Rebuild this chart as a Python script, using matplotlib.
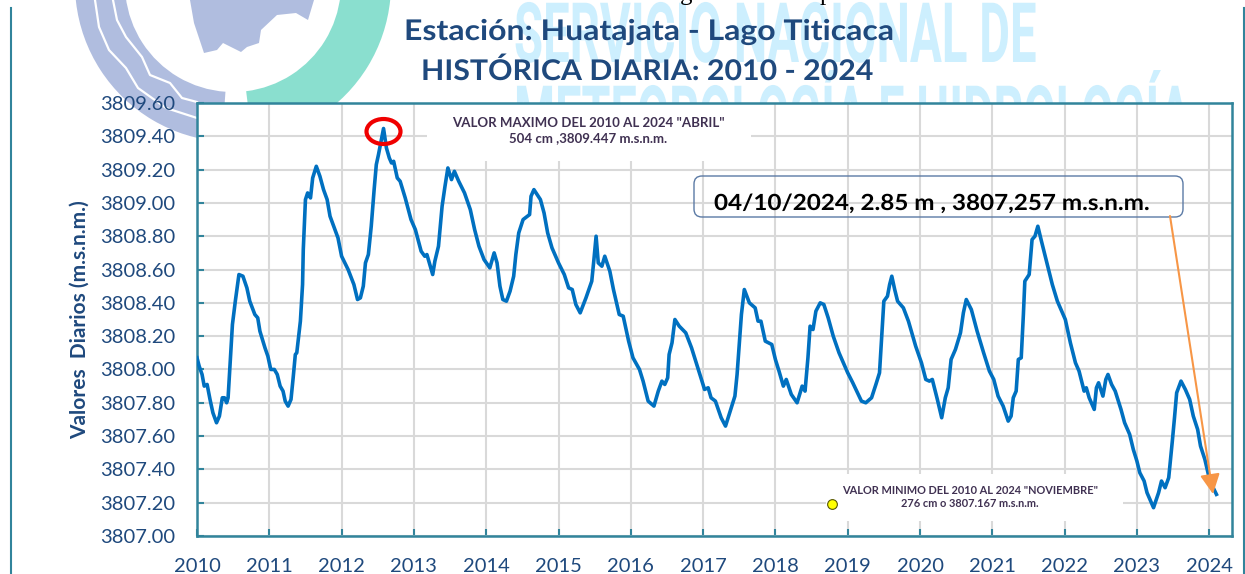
import numpy as np
import matplotlib
matplotlib.use('Agg')
import matplotlib.pyplot as plt
from matplotlib.patches import Wedge, Ellipse, FancyBboxPatch, Rectangle, Polygon
from matplotlib.patheffects import AbstractPathEffect
from matplotlib.transforms import Affine2D

# decimal year, level (m.s.n.m.)
years = [
    2010.0, 2010.03, 2010.07, 2010.10, 2010.14, 2010.18, 2010.22, 2010.27, 2010.31, 2010.35, 2010.38, 2010.41,
    2010.43, 2010.46, 2010.49, 2010.53, 2010.58, 2010.635, 2010.69, 2010.73, 2010.80, 2010.84, 2010.87, 2010.94,
    2010.98, 2011.02, 2011.07, 2011.11, 2011.15, 2011.19, 2011.22, 2011.26, 2011.30, 2011.33, 2011.36, 2011.38,
    2011.43, 2011.46, 2011.47, 2011.50, 2011.53, 2011.57, 2011.60, 2011.65, 2011.70, 2011.75, 2011.80, 2011.84,
    2011.90, 2011.95, 2012.0, 2012.09, 2012.17, 2012.22, 2012.26, 2012.30, 2012.33, 2012.37, 2012.41, 2012.45,
    2012.48, 2012.51, 2012.58, 2012.62, 2012.66, 2012.69, 2012.72, 2012.77, 2012.81, 2012.88, 2012.96, 2013.02,
    2013.10, 2013.15, 2013.18, 2013.26, 2013.29, 2013.34, 2013.39, 2013.43, 2013.47, 2013.52, 2013.56, 2013.62,
    2013.70, 2013.78, 2013.84, 2013.90, 2013.97, 2014.05, 2014.11, 2014.15, 2014.19, 2014.23, 2014.28, 2014.33,
    2014.38, 2014.41, 2014.45, 2014.51, 2014.60, 2014.62, 2014.66, 2014.75, 2014.80, 2014.85, 2014.91, 2015.0,
    2015.08, 2015.14, 2015.19, 2015.24, 2015.30, 2015.38, 2015.46, 2015.49, 2015.52, 2015.55, 2015.60, 2015.64,
    2015.71, 2015.76, 2015.84, 2015.895, 2015.97, 2016.03, 2016.12, 2016.17, 2016.24, 2016.32, 2016.38, 2016.43,
    2016.47, 2016.51, 2016.53, 2016.57, 2016.61, 2016.67, 2016.76, 2016.84, 2016.92, 2016.97, 2017.02, 2017.07,
    2017.11, 2017.17, 2017.25, 2017.31, 2017.36, 2017.44, 2017.47, 2017.50, 2017.53, 2017.57, 2017.64, 2017.72,
    2017.76, 2017.80, 2017.86, 2017.95, 2018.0, 2018.05, 2018.11, 2018.15, 2018.22, 2018.30, 2018.37, 2018.41,
    2018.45, 2018.48, 2018.52, 2018.56, 2018.62, 2018.67, 2018.73, 2018.80, 2018.88, 2019.0, 2019.07, 2019.19,
    2019.25, 2019.33, 2019.39, 2019.44, 2019.47, 2019.50, 2019.55, 2019.58, 2019.61, 2019.65, 2019.69, 2019.77,
    2019.84, 2019.94, 2020.02, 2020.08, 2020.13, 2020.17, 2020.24, 2020.30, 2020.35, 2020.39, 2020.43, 2020.49,
    2020.56, 2020.60, 2020.64, 2020.71, 2020.79, 2020.88, 2020.96, 2021.02, 2021.08, 2021.15, 2021.22, 2021.26,
    2021.29, 2021.33, 2021.36, 2021.40, 2021.43, 2021.45, 2021.51, 2021.55, 2021.59, 2021.63, 2021.68, 2021.76,
    2021.83, 2021.90, 2022.01, 2022.08, 2022.15, 2022.20, 2022.27, 2022.30, 2022.34, 2022.41, 2022.44, 2022.47,
    2022.53, 2022.57, 2022.60, 2022.65, 2022.70, 2022.78, 2022.83, 2022.90, 2022.95, 2023.0, 2023.04, 2023.10,
    2023.14, 2023.23, 2023.30, 2023.34, 2023.39, 2023.44, 2023.49, 2023.52, 2023.55, 2023.61, 2023.67, 2023.73,
    2023.78, 2023.84, 2023.88, 2023.94, 2024.01, 2024.10,
]
levels = [
    3808.07, 3808.02, 3807.97, 3807.90, 3807.91, 3807.82, 3807.74, 3807.68, 3807.72, 3807.83, 3807.83, 3807.80,
    3807.83, 3808.05, 3808.27, 3808.41, 3808.57, 3808.56, 3808.49, 3808.41, 3808.33, 3808.31, 3808.23, 3808.13,
    3808.08, 3808.00, 3808.00, 3807.97, 3807.90, 3807.87, 3807.81, 3807.78, 3807.82, 3807.95, 3808.09, 3808.10,
    3808.29, 3808.51, 3808.72, 3809.02, 3809.06, 3809.03, 3809.15, 3809.22, 3809.16, 3809.08, 3809.02, 3808.92,
    3808.85, 3808.79, 3808.68, 3808.60, 3808.51, 3808.42, 3808.43, 3808.50, 3808.64, 3808.69, 3808.86, 3809.08,
    3809.23, 3809.29, 3809.447, 3809.33, 3809.27, 3809.24, 3809.25, 3809.15, 3809.13, 3809.03, 3808.90, 3808.84,
    3808.71, 3808.68, 3808.69, 3808.57, 3808.65, 3808.74, 3808.98, 3809.10, 3809.21, 3809.14, 3809.19, 3809.13,
    3809.06, 3808.96, 3808.84, 3808.74, 3808.66, 3808.61, 3808.70, 3808.64, 3808.50, 3808.42, 3808.41, 3808.47,
    3808.56, 3808.69, 3808.82, 3808.90, 3808.93, 3809.04, 3809.08, 3809.02, 3808.94, 3808.82, 3808.73, 3808.64,
    3808.57, 3808.49, 3808.48, 3808.39, 3808.34, 3808.43, 3808.53, 3808.66, 3808.80, 3808.64, 3808.62, 3808.68,
    3808.59, 3808.48, 3808.33, 3808.32, 3808.17, 3808.07, 3808.00, 3807.93, 3807.81, 3807.78, 3807.87, 3807.93,
    3807.91, 3807.95, 3808.09, 3808.16, 3808.30, 3808.26, 3808.22, 3808.13, 3808.02, 3807.95, 3807.88, 3807.89,
    3807.83, 3807.81, 3807.71, 3807.66, 3807.73, 3807.84, 3807.97, 3808.15, 3808.33, 3808.48, 3808.40, 3808.37,
    3808.29, 3808.29, 3808.17, 3808.15, 3808.06, 3807.99, 3807.90, 3807.94, 3807.85, 3807.80, 3807.90, 3807.87,
    3808.07, 3808.26, 3808.24, 3808.35, 3808.40, 3808.39, 3808.31, 3808.20, 3808.10, 3807.98, 3807.92, 3807.81,
    3807.80, 3807.83, 3807.91, 3807.98, 3808.19, 3808.41, 3808.44, 3808.51, 3808.56, 3808.48, 3808.41, 3808.37,
    3808.29, 3808.14, 3808.04, 3807.94, 3807.93, 3807.94, 3807.82, 3807.71, 3807.83, 3807.89, 3808.06, 3808.12,
    3808.22, 3808.34, 3808.42, 3808.36, 3808.23, 3808.10, 3807.99, 3807.94, 3807.84, 3807.78, 3807.69, 3807.72,
    3807.83, 3807.87, 3808.06, 3808.07, 3808.33, 3808.53, 3808.57, 3808.78, 3808.80, 3808.86, 3808.77, 3808.63,
    3808.51, 3808.41, 3808.30, 3808.16, 3808.04, 3807.99, 3807.87, 3807.89, 3807.83, 3807.76, 3807.89, 3807.92,
    3807.84, 3807.94, 3807.97, 3807.91, 3807.87, 3807.76, 3807.68, 3807.61, 3807.52, 3807.45, 3807.38, 3807.33,
    3807.26, 3807.17, 3807.26, 3807.33, 3807.29, 3807.35, 3807.57, 3807.71, 3807.86, 3807.93, 3807.88, 3807.82,
    3807.72, 3807.64, 3807.54, 3807.46, 3807.33, 3807.25,
]
year_ticks = list(range(2010, 2025))
level_ticks = [3807.0 + 0.2 * i for i in range(14)]

title_1 = 'Estación: Huatajata - Lago Titicaca'
title_2 = 'HISTÓRICA DIARIA: 2010 - 2024'
note_max = 'VALOR MAXIMO DEL 2010 AL 2024 "ABRIL"\n504 cm ,3809.447 m.s.n.m.'
note_min = 'VALOR MINIMO DEL 2010 AL 2024 "NOVIEMBRE"\n276 cm o 3807.167 m.s.n.m.'
note_last = '04/10/2024, 2.85 m , 3807,257 m.s.n.m.'
mark_1 = 'SERVICIO NACIONAL DE'
mark_2 = 'METEOROLOGÍA E HIDROLOGÍA'

W, H = 1245, 574
TEAL = '#31849b'
NAVY = '#1f497d'
plt.rcParams['font.family'] = ['Lato', 'DejaVu Sans']

fig = plt.figure(figsize=(W / 100, H / 100), dpi=100)
renderer = fig.canvas.get_renderer()


class StretchX(AbstractPathEffect):
    # the fonts here are wider/narrower than the original ones, so scale text along x
    def __init__(self, sx, x0):
        super().__init__()
        self.sx = sx
        self.x0 = x0

    def draw_path(self, renderer, gc, tpath, affine, rgbFace=None):
        t = affine + Affine2D().translate(-self.x0, 0).scale(self.sx, 1).translate(self.x0, 0)
        renderer.draw_path(gc, tpath, t, rgbFace)


def fit_width(txt, x0, target):
    width = txt.get_window_extent(renderer).width
    txt.set_path_effects([StretchX(target / width, x0)])


# background layer in pixel coordinates: logo, watermark, side rules
bg = fig.add_axes([0, 0, 1, 1], zorder=0)
bg.set_xlim(0, W)
bg.set_ylim(H, 0)
bg.axis('off')
cx, cy = 233, -16
bg.add_patch(Wedge((cx, cy), 158, 94, 200, width=50, fc='#b0bddf', ec='none'))
bg.add_patch(Wedge((cx, cy), 158, -20, 83, width=50, fc='#8adfcf', ec='none'))
bg.plot([95, 99, 109, 126, 138, 166, 197], [0, 27, 50, 68, 88, 108, 118], color='white', lw=1.6)
bg.plot([113, 117, 126, 142, 150, 170, 182, 197], [0, 20, 37, 57, 75, 83, 98, 102], color='white', lw=1.6)
bg.add_patch(Polygon([(190, 0), (194, 23), (204, 53), (217, 50), (223, 43), (241, 52), (247, 47), (259, 43),
                      (261, 30), (277, 15), (296, 13), (308, 20), (314, 0)], fc='#b0bddf', ec='none'))
bg.plot([11, 11], [8, H], color=TEAL, lw=1.5)
bg.plot([1244, 1244], [8, H], color=TEAL, lw=1.5)
m1 = bg.text(514, 62, mark_1, color='#cdeffe', fontsize=60, family='Roboto', fontweight='bold', va='baseline')
m2 = bg.text(514, 145, mark_2, color='#cdeffe', fontsize=60, family='Roboto', fontweight='bold', va='baseline')
fit_width(m1, 514, 523)
fit_width(m2, 514, 677)
bg.text(686, 0, 'g', color='black', fontsize=18, family='Liberation Serif', ha='center', va='baseline')
bg.text(826, 0, 'p', color='black', fontsize=18, family='Liberation Serif', ha='center', va='baseline')

left, right, top, bottom = 197, 1232, 103, 536
ax = fig.add_axes([left / W, 1 - bottom / H, (right - left) / W, (bottom - top) / H], zorder=1)
ax.set_facecolor('white')
ax.set_xlim(2010, 2010 + (right - left) / 72.3)
ax.set_ylim(3807, 3809.6)
ax.grid(True, color='#d9d9d9', lw=1.5)
ax.set_axisbelow(True)
ax.set_xticks(year_ticks)
ax.set_yticks(level_ticks)
ax.set_xticklabels([str(y) for y in year_ticks])
ax.set_yticklabels(['%.2f' % v for v in level_ticks])
ax.tick_params(direction='in', length=5, width=1.5, color=TEAL, labelcolor=NAVY, labelsize=14.5)
ax.tick_params(axis='x', pad=16)
ax.tick_params(axis='y', pad=15.5)
for side in ['left', 'bottom', 'top', 'right']:
    ax.spines[side].set_color(TEAL)
    ax.spines[side].set_linewidth(1.8)

# overlay in pixel coordinates for the notes drawn over the plot
top_ax = fig.add_axes([0, 0, 1, 1], zorder=2)
top_ax.set_xlim(0, W)
top_ax.set_ylim(H, 0)
top_ax.axis('off')
top_ax.patch.set_alpha(0)

# white note boxes hide the grid, sit under the line
ax.add_patch(Rectangle((427, 103), 324, 58, transform=top_ax.transData, fc='white', ec='none', zorder=1.5))
ax.add_patch(Rectangle((826, 474), 297, 47, transform=top_ax.transData, fc='white', ec='none', zorder=1.5))
ax.plot(years, levels, color='#0070c0', lw=2.6, zorder=3)

top_ax.text(80, 320, 'Valores  Diarios (m.s.n.m.)', color=NAVY, fontsize=15, fontweight='bold', rotation=90,
            ha='center', va='center')
top_ax.add_patch(Ellipse((383.5, 131.5), 34, 25, fc='none', ec='#f00000', lw=3))
top_ax.add_patch(FancyBboxPatch((700, 182), 477, 29, boxstyle='round,pad=6,rounding_size=8', fc='none',
                                ec='#5b7aa5', lw=1))
t_last = top_ax.text(714, 210, note_last, color='black', fontsize=16, fontweight='bold', va='baseline')
fit_width(t_last, 714, 436)
top_ax.annotate('', xy=(1213, 494), xytext=(1170, 216),
                arrowprops=dict(arrowstyle='-|>,head_width=0.4,head_length=0.8', color='#f79646', lw=1.5,
                                shrinkA=0, shrinkB=0, mutation_scale=15))
top_ax.text(588, 130.5, note_max, color='#403152', fontsize=9.5, fontweight='bold', ha='center', va='center',
            linespacing=1.3)
top_ax.text(970, 497, note_min, color='#403152', fontsize=7.9, fontweight='bold', ha='center', va='center',
            linespacing=1.3)
top_ax.plot([832], [504], 'o', ms=7, mfc='#ffff00', mec='#555500', mew=0.8)

t1 = top_ax.text(404, 40, title_1, color=NAVY, fontsize=20.5, fontweight='bold', va='baseline')
t2 = top_ax.text(421, 80, title_2, color=NAVY, fontsize=20.5, fontweight='bold', va='baseline')
fit_width(t1, 404, 491)
fit_width(t2, 421, 452)

fig.savefig('out.png', dpi=100)
plt.close()
